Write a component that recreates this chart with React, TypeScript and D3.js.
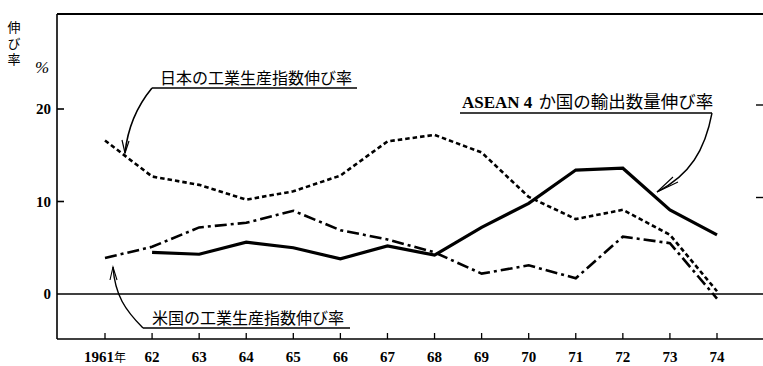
import React from "react";
import * as d3 from "d3";

const years = [1961, 1962, 1963, 1964, 1965, 1966, 1967, 1968, 1969, 1970, 1971, 1972, 1973, 1974];
const yearLabels = ["1961", "62", "63", "64", "65", "66", "67", "68", "69", "70", "71", "72", "73", "74"];
const japan = [16.6, 12.7, 11.8, 10.2, 11.1, 12.8, 16.5, 17.2, 15.3, 10.5, 8.1, 9.1, 6.4, 0.3];
const aseanYears = [1962, 1963, 1964, 1965, 1966, 1967, 1968, 1969, 1970, 1971, 1972, 1973, 1974];
const asean = [4.5, 4.3, 5.6, 5.0, 3.8, 5.2, 4.2, 7.2, 9.8, 13.4, 13.6, 9.1, 6.4];
const us = [3.9, 5.1, 7.2, 7.7, 9.0, 6.9, 5.9, 4.5, 2.2, 3.1, 1.7, 6.2, 5.5, -0.5];
const yTicks = [0, 10, 20];

const W = 763;
const H = 366;
const serif = "'Liberation Serif', 'DejaVu Serif', serif";
const jp = "'Noto Sans CJK JP', sans-serif";

export default function App() {
  const x = d3.scaleLinear().domain([1961, 1974]).range([105, 717]);
  const y = d3.scaleLinear().domain([0, 20]).range([294, 109]);
  const line = d3
    .line<[number, number]>()
    .x((d) => x(d[0]))
    .y((d) => y(d[1]));

  const jpPath = line(years.map((yr, i) => [yr, japan[i]]));
  const usPath = line(years.map((yr, i) => [yr, us[i]]));
  const asPath = line(aseanYears.map((yr, i) => [yr, asean[i]]));

  const axisLeft = 57;
  const axisBottom = 339;
  const top = 14;

  return (
    <svg
      width={W}
      height={H}
      style={{ position: "absolute", left: 0, top: 0, background: "#fff" }}
    >
      {/* frame */}
      <line x1={axisLeft} y1={top} x2={W} y2={top} stroke="#000" strokeWidth={1.8} />
      <line x1={axisLeft} y1={top} x2={axisLeft} y2={axisBottom} stroke="#000" strokeWidth={1.6} />
      <line x1={axisLeft} y1={axisBottom} x2={W} y2={axisBottom} stroke="#000" strokeWidth={1.6} />
      <line x1={axisLeft} y1={y(0)} x2={W} y2={y(0)} stroke="#000" strokeWidth={1.4} />

      {/* y ticks */}
      {yTicks.map((t) => (
        <g key={t}>
          {t !== 0 && (
            <line x1={axisLeft} y1={y(t)} x2={axisLeft + 7} y2={y(t)} stroke="#000" strokeWidth={1.6} />
          )}
          {t !== 0 && (
            <line x1={W - 7} y1={y(t) - 4} x2={W} y2={y(t) - 4} stroke="#000" strokeWidth={1.4} />
          )}
          <text
            x={axisLeft - 6}
            y={y(t)}
            dy="0.36em"
            textAnchor="end"
            fontFamily={serif}
            fontWeight="bold"
            fontSize={15}
          >
            {t}
          </text>
        </g>
      ))}

      {/* y-axis title (vertical) */}
      <text
        x={14}
        y={21}
        fontFamily={jp}
        fontSize={13}
        letterSpacing={3}
        style={{ writingMode: "vertical-rl" }}
      >
        伸び率
      </text>
      <text x={42} y={73} textAnchor="middle" fontFamily={serif} fontStyle="italic" fontSize={17}>%</text>

      {/* x ticks */}
      {years.map((yr, i) => (
        <g key={yr}>
          <line x1={x(yr)} y1={axisBottom} x2={x(yr)} y2={axisBottom - 6} stroke="#000" strokeWidth={1.3} />
          <text
            x={x(yr)}
            y={362}
            textAnchor="middle"
            fontFamily={serif}
            fontWeight="bold"
            fontSize={15}
          >
            {yearLabels[i]}
            {i === 0 && (
              <tspan fontFamily={jp} fontWeight="normal" fontSize={12}>年</tspan>
            )}
          </text>
        </g>
      ))}

      {/* series */}
      <path d={jpPath || ""} fill="none" stroke="#000" strokeWidth={2.6} strokeDasharray="4.5 3" />
      <path d={usPath || ""} fill="none" stroke="#000" strokeWidth={2.6} strokeDasharray="12 4 3 4" />
      <path d={asPath || ""} fill="none" stroke="#000" strokeWidth={3.2} strokeLinejoin="miter" />

      {/* Japan annotation */}
      <text x={160} y={84} fontFamily={jp} fontSize={16}>日本の工業生産指数伸び率</text>
      <line x1={152} y1={88} x2={357} y2={88} stroke="#000" strokeWidth={1.4} />
      <path d="M152,88 C138,105 128,125 125,153" fill="none" stroke="#000" strokeWidth={1.6} />
      <path d="M122,140 L125,153 L129,141" fill="none" stroke="#000" strokeWidth={1.2} />

      {/* ASEAN annotation */}
      <text x={462} y={108} fontFamily={serif} fontWeight="bold" fontSize={17}>
        ASEAN 4
        <tspan dx={6} fontFamily={jp} fontWeight="normal" fontSize={17.5}>か国の輸出数量伸び率</tspan>
      </text>
      <line x1={460} y1={113} x2={712} y2={113} stroke="#000" strokeWidth={1.4} />
      <path d="M712,113 C705,150 690,175 657,192" fill="none" stroke="#000" strokeWidth={1.4} />
      <path d="M678,182 L657,192 L673,177" fill="none" stroke="#000" strokeWidth={1.1} />

      {/* US annotation */}
      <text x={152} y={324} fontFamily={jp} fontSize={16}>米国の工業生産指数伸び率</text>
      <line x1={143} y1={328} x2={350} y2={328} stroke="#000" strokeWidth={1.4} />
      <path d="M143,328 C125,310 115,295 113,267" fill="none" stroke="#000" strokeWidth={1.4} />
      <path d="M110,280 L113,267 L117,280" fill="none" stroke="#000" strokeWidth={1.1} />
    </svg>
  );
}
